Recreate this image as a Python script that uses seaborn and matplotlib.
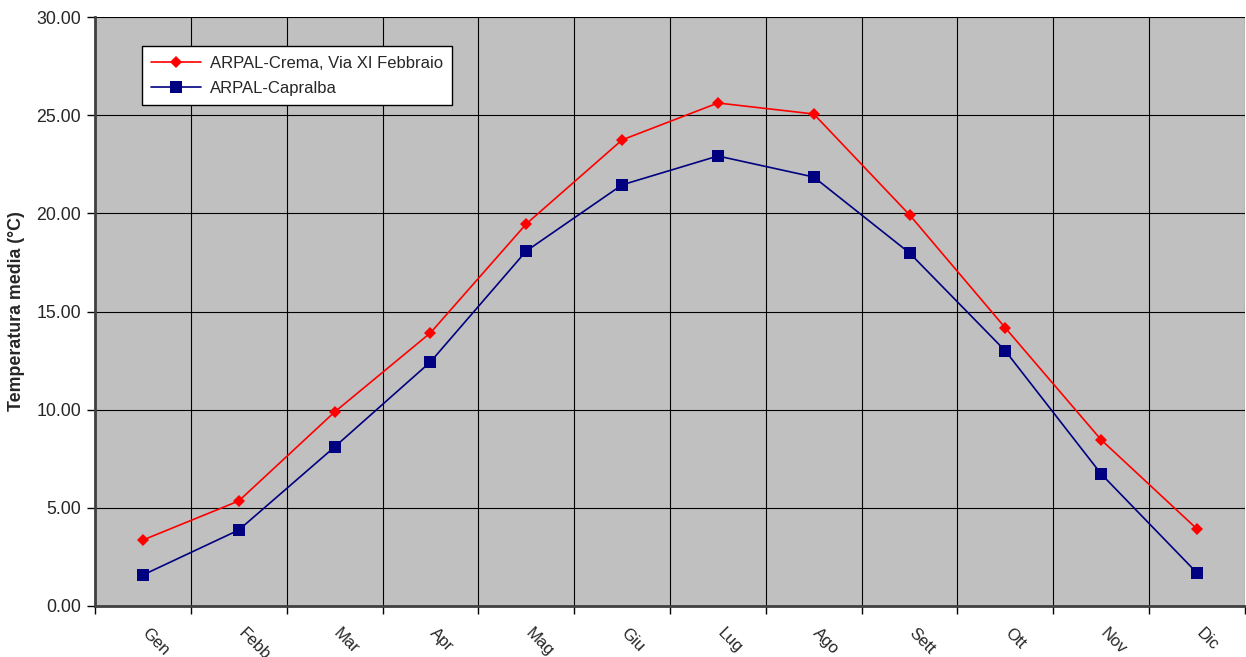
import numpy as np
import pandas as pd
import matplotlib
matplotlib.use("Agg")
import matplotlib.pyplot as plt
from matplotlib.ticker import FixedLocator, NullFormatter, FormatStrFormatter
from matplotlib.transforms import ScaledTranslation
import seaborn as sns

months = ["Gen", "Febb", "Mar", "Apr", "Mag", "Giu", "Lug", "Ago", "Sett", "Ott", "Nov", "Dic"]
crema = [3.36, 5.35, 9.88, 13.91, 19.46, 23.74, 25.62, 25.06, 19.92, 14.16, 8.46, 3.92]
capralba = [1.58, 3.87, 8.10, 12.43, 18.08, 21.45, 22.92, 21.85, 17.98, 12.99, 6.72, 1.68]
series_names = ["ARPAL-Crema, Via XI Febbraio", "ARPAL-Capralba"]
y_ticks = [0, 5, 10, 15, 20, 25, 30]

sns.set_style("white")
plt.rcParams["font.family"] = ["Liberation Sans", "DejaVu Sans"]

df = pd.DataFrame({
    "pos": list(range(len(months))) * 2,
    "value": crema + capralba,
    "serie": [series_names[0]] * len(months) + [series_names[1]] * len(months),
})

fig = plt.figure(figsize=(12.46, 6.57), dpi=100)
ax = fig.add_axes([95 / 1246, 51 / 657, 1150 / 1246, 589 / 657])
ax.set_facecolor("#C0C0C0")

sns.lineplot(
    data=df, x="pos", y="value", hue="serie", style="serie",
    palette={series_names[0]: "#FF0000", series_names[1]: "#000080"},
    markers={series_names[0]: "D", series_names[1]: "s"},
    dashes=False, linewidth=1.2, ax=ax, zorder=3,
)
# per-series marker sizes
marker_sizes = [6.5, 8]
for line, ms in zip(ax.lines, marker_sizes):
    line.set_markersize(ms)
    line.set_markeredgewidth(0)

ax.set_xlim(-0.5, len(months) - 0.5)
ax.set_ylim(0, 30)

# category boundaries carry the tick marks and grid lines; labels sit at centers
ax.xaxis.set_major_locator(FixedLocator(np.arange(-0.5, len(months), 1.0)))
ax.xaxis.set_major_formatter(NullFormatter())
ax.xaxis.set_minor_locator(FixedLocator(np.arange(len(months))))
ax.set_xticklabels(months, minor=True)
ax.tick_params(axis="x", which="major", length=6, width=1, color="black", direction="out")
ax.tick_params(axis="x", which="minor", length=0, pad=14, labelsize=12)
shift = ScaledTranslation(7 / 100, 0, fig.dpi_scale_trans)
for lab in ax.get_xticklabels(minor=True):
    lab.set_rotation(-45)
    lab.set_rotation_mode("anchor")
    lab.set_ha("left")
    lab.set_va("top")
    lab.set_transform(lab.get_transform() + shift)

ax.set_yticks(y_ticks)
ax.yaxis.set_major_formatter(FormatStrFormatter("%.2f"))
ax.tick_params(axis="y", length=6, width=1, color="black", direction="out", labelsize=12.8, pad=4)
ax.tick_params(left=True, bottom=True)

ax.grid(True, which="major", color="black", linewidth=0.8)
ax.set_axisbelow(True)

for side in ["top", "right"]:
    ax.spines[side].set_visible(False)
for side in ["left", "bottom"]:
    ax.spines[side].set_color("#404040")
    ax.spines[side].set_linewidth(2)

ax.set_xlabel("")
ax.set_ylabel("Temperatura media (°C)", fontsize=12.8, fontweight="bold", labelpad=8)

handles, labels = ax.get_legend_handles_labels()
leg = ax.legend(handles, labels, loc="upper left", bbox_to_anchor=(0.041, 0.95),
                frameon=True, fancybox=False, fontsize=12, borderpad=0.55,
                handlelength=3, handletextpad=0.5, labelspacing=0.6, borderaxespad=0)
for h, ms in zip(leg.legend_handles, marker_sizes):
    h.set_markersize(ms)
    h.set_markeredgewidth(0)
leg.get_frame().set_edgecolor("black")
leg.get_frame().set_facecolor("white")
leg.get_frame().set_alpha(1)
leg.get_frame().set_linewidth(1)

fig.savefig("out.png", dpi=100)
